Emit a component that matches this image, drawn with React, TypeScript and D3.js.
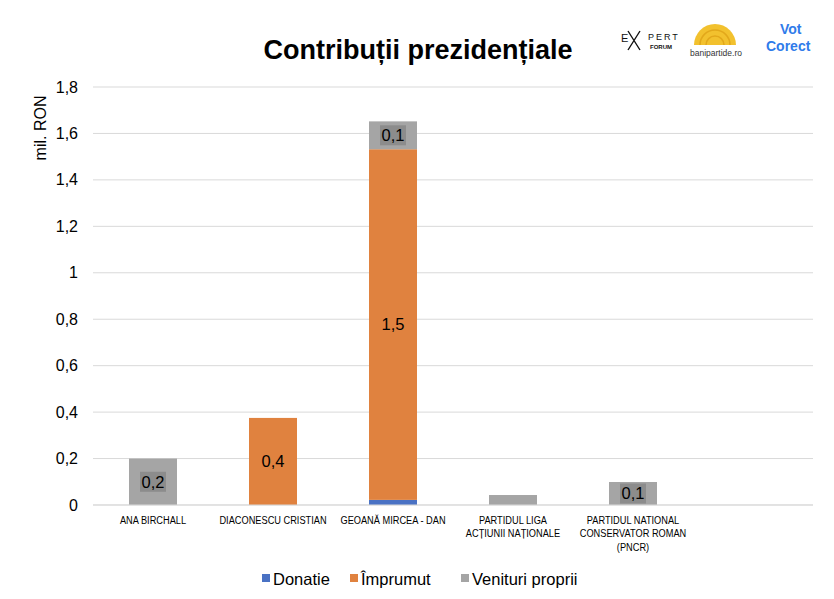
import { scaleBand, scaleLinear, stack, range } from "d3";

const categories = [
    "ANA BIRCHALL",
    "DIACONESCU CRISTIAN",
    "GEOANĂ MIRCEA - DAN",
    "PARTIDUL LIGA ACȚIUNII NAȚIONALE",
    "PARTIDUL NATIONAL CONSERVATOR ROMAN (PNCR)",
    "",
];
// wrapped lines for the category labels
const categoryLines = [
    ["ANA BIRCHALL"],
    ["DIACONESCU CRISTIAN"],
    ["GEOANĂ MIRCEA - DAN"],
    ["PARTIDUL LIGA", "ACȚIUNII NAȚIONALE"],
    ["PARTIDUL NATIONAL", "CONSERVATOR ROMAN", "(PNCR)"],
    [],
];
const seriesNames = ["Donatie", "Împrumut", "Venituri proprii"];
const donatie = [0, 0, 0.022, 0, 0, 0];
const imprumut = [0, 0.375, 1.51, 0, 0, 0];
const venituri = [0.2, 0, 0.12, 0.043, 0.099, 0];
// labels shown inside segments (null = none)
const labels = [
    [null, null, null, null, null, null],
    [null, "0,4", "1,5", null, null, null],
    ["0,2", null, "0,1", null, "0,1", null],
];
const yTicks = [0, 0.2, 0.4, 0.6, 0.8, 1, 1.2, 1.4, 1.6, 1.8];
const colors = ["#4A72C4", "#E0823F", "#A5A5A5"];

const fmt = (v: number) => String(Math.round(v * 10) / 10).replace(".", ",");

function Chart() {
    const width = 834;
    const height = 599;
    const marginLeft = 93;
    const marginRight = 21;
    const marginTop = 87;
    const plotBottom = 505;
    const font = "'Liberation Sans', Arial, sans-serif";

    const x = scaleBand<string>()
        .domain(range(categories.length).map(String))
        .range([marginLeft, width - marginRight])
        .paddingInner(0.6)
        .paddingOuter(0.3);
    const y = scaleLinear([0, 1.8], [plotBottom, marginTop]);

    const rows = categories.map((_, i) => ({
        i,
        s0: donatie[i],
        s1: imprumut[i],
        s2: venituri[i],
    }));
    const stacked = stack<any>().keys(["s0", "s1", "s2"])(rows);

    const legendItems = [
        { x: 262, name: seriesNames[0] },
        { x: 350, name: seriesNames[1] },
        { x: 461, name: seriesNames[2] },
    ];

    return (
        <svg width={width} height={height} style={{ position: "absolute", left: 0, top: 0, background: "#fff" }}>
            {/* title */}
            <text x={418} y={59} textAnchor="middle" fontFamily={font} fontWeight="bold" fontSize={27} fill="#000">
                Contribuții prezidențiale
            </text>

            {/* logos (approximation) */}
            <g fontFamily={font}>
                <text x={621} y={42} fontSize={11} fill="#111">E</text>
                <path d="M628 31 L640 50 M640 31 L628 50" stroke="#111" strokeWidth={1.4} />
                <text x={648} y={40} fontSize={9} fill="#111" letterSpacing={2}>PERT</text>
                <text x={650} y={49} fontSize={6} fill="#111" fontWeight="bold">FORUM</text>
                <path d="M694 45 A 21 21 0 0 1 736 45 Z" fill="#F2C12E" />
                <path d="M700 45 A 15 15 0 0 1 730 45" fill="none" stroke="#E2A81B" strokeWidth={1.5} />
                <path d="M706 45 A 9 9 0 0 1 724 45" fill="none" stroke="#E2A81B" strokeWidth={1.5} />
                <text x={716} y={56} fontSize={8.5} fill="#333" textAnchor="middle">banipartide.ro</text>
                <text x={780} y={34} fontSize={14} fontWeight="bold" fill="#2F7BEA">Vot</text>
                <text x={766} y={51} fontSize={14} fontWeight="bold" fill="#2F7BEA">Corect</text>
            </g>

            {/* gridlines */}
            {yTicks.map((t) => (
                <line
                    key={t}
                    x1={marginLeft}
                    x2={width - marginRight}
                    y1={y(t)}
                    y2={y(t)}
                    stroke="#D9D9D9"
                    strokeWidth={1}
                />
            ))}

            {/* y tick labels */}
            {yTicks.map((t) => (
                <text key={t} x={78} y={y(t)} dy="0.35em" textAnchor="end" fontFamily={font} fontSize={16} fill="#000">
                    {fmt(t)}
                </text>
            ))}
            <text
                transform={`translate(46,${128}) rotate(-90)`}
                textAnchor="middle"
                fontFamily={font}
                fontSize={16}
                fill="#000"
            >
                mil. RON
            </text>

            {/* bars */}
            {stacked.map((layer, si) => (
                <g key={si} fill={colors[si]}>
                    {layer.map((d, i) =>
                        d[1] - d[0] > 0 ? (
                            <rect
                                key={i}
                                x={x(String(i))}
                                width={x.bandwidth()}
                                y={y(d[1])}
                                height={y(d[0]) - y(d[1])}
                            />
                        ) : null,
                    )}
                </g>
            ))}

            {/* data labels */}
            {stacked.map((layer, si) =>
                layer.map((d, i) => {
                    const lab = labels[si][i];
                    if (!lab) return null;
                    const cx = (x(String(i)) as number) + x.bandwidth() / 2;
                    const cy = (y(d[0]) + y(d[1])) / 2;
                    return (
                        <g key={`${si}-${i}`}>
                            {si === 2 ? (
                                <rect x={cx - 13} y={cy - 10} width={26} height={20} fill="#8C8C8C" />
                            ) : null}
                            <text x={cx} y={cy} dy="0.35em" textAnchor="middle" fontFamily={font} fontSize={16.5} fill="#000">
                                {lab}
                            </text>
                        </g>
                    );
                }),
            )}

            {/* x axis baseline */}
            <line x1={marginLeft} x2={width - marginRight} y1={plotBottom} y2={plotBottom} stroke="#D9D9D9" />

            {/* category labels (condensed) */}
            {categoryLines.map((lines, i) => {
                const cx = (x(String(i)) as number) + x.bandwidth() / 2;
                return (
                    <g key={i} transform={`translate(${cx},524) scale(0.84,1)`}>
                        <text textAnchor="middle" fontFamily={font} fontSize={11} fill="#000">
                            {lines.map((l, k) => (
                                <tspan key={k} x={0} y={k * 13.5}>
                                    {l}
                                </tspan>
                            ))}
                        </text>
                    </g>
                );
            })}

            {/* legend */}
            {legendItems.map((it, i) => (
                <g key={i}>
                    <rect x={it.x} y={574} width={8} height={8} fill={colors[i]} />
                    <text x={it.x + 11} y={579} dy="0.35em" fontFamily={font} fontSize={16.5} fill="#000">
                        {it.name}
                    </text>
                </g>
            ))}
        </svg>
    );
}

export default function App() {
    return (
        <div>
            <Chart />
        </div>
    );
}
